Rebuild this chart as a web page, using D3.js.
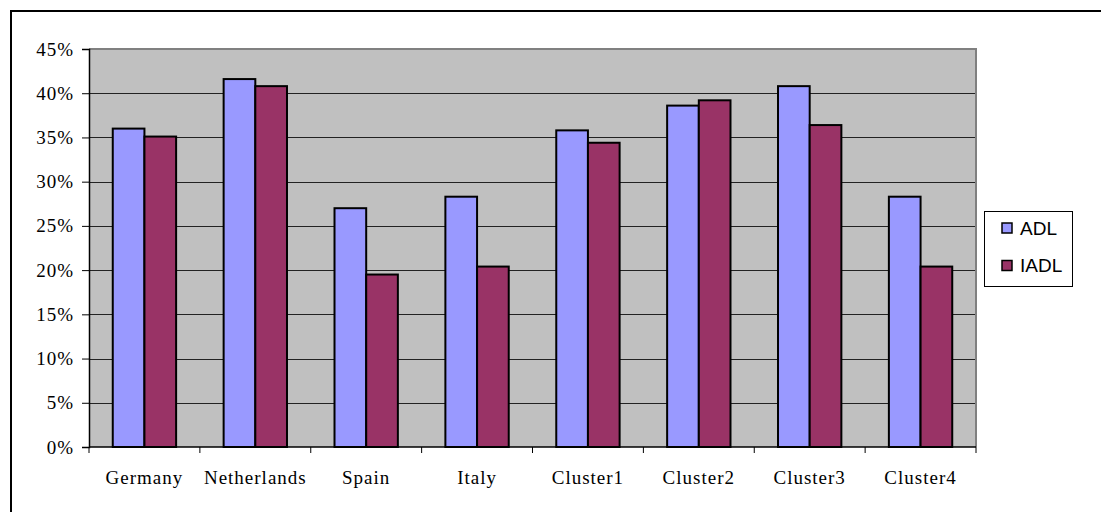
<!DOCTYPE html>
<html>
<head>
<meta charset="utf-8">
<script src="https://cdn.jsdelivr.net/npm/d3@7"></script>
<style>
  html, body { margin: 0; padding: 0; background: #ffffff; }
  svg { display: block; }
</style>
</head>
<body>
<svg id="chart" width="1101" height="512"></svg>
<script>
// Share of respondents with ADL / IADL limitations, by country and cluster
const categories = ["Germany", "Netherlands", "Spain", "Italy", "Cluster1", "Cluster2", "Cluster3", "Cluster4"];
const seriesNames = ["ADL", "IADL"];
const adlValues  = [0.360, 0.416, 0.270, 0.283, 0.358, 0.386, 0.408, 0.283];
const iadlValues = [0.351, 0.408, 0.195, 0.204, 0.344, 0.392, 0.364, 0.204];
const yTickValues = [0, 0.05, 0.10, 0.15, 0.20, 0.25, 0.30, 0.35, 0.40, 0.45];
const seriesColors = ["#9999FF", "#993366"];

const svg = d3.select("#chart");

// Chart-area frame (left and top edges)
svg.append("line").attr("x1", 11).attr("x2", 1101).attr("y1", 11).attr("y2", 11)
  .attr("stroke", "#000").attr("stroke-width", 2);
svg.append("line").attr("x1", 11).attr("x2", 11).attr("y1", 10).attr("y2", 512)
  .attr("stroke", "#000").attr("stroke-width", 2);

const plot = { left: 89, right: 976, top: 49, bottom: 447 };

const x0 = d3.scaleBand().domain(categories).range([plot.left, plot.right]).padding(0);
const x1 = d3.scaleBand().domain(seriesNames).range([0, x0.bandwidth()])
  .paddingInner(0).paddingOuter(0.75);
const y = d3.scaleLinear().domain([0, 0.45]).range([plot.bottom, plot.top]);

// Plot background
svg.append("rect")
  .attr("x", plot.left).attr("y", plot.top)
  .attr("width", plot.right - plot.left).attr("height", plot.bottom - plot.top)
  .attr("fill", "#C0C0C0");

// Horizontal gridlines
svg.append("g").selectAll("line")
  .data(yTickValues.filter(v => v > 0 && v < 0.45))
  .join("line")
  .attr("x1", plot.left).attr("x2", plot.right)
  .attr("y1", d => Math.round(y(d)) + 0.5).attr("y2", d => Math.round(y(d)) + 0.5)
  .attr("stroke", "#222").attr("stroke-width", 1);

// Plot-area border (top and right in grey)
svg.append("path")
  .attr("d", `M${plot.left},${plot.top}H${plot.right}V${plot.bottom}`)
  .attr("fill", "none").attr("stroke", "#808080").attr("stroke-width", 2);

// Bars
const rows = categories.map((c, i) => ({ cat: c, vals: [adlValues[i], iadlValues[i]] }));
const groups = svg.append("g").selectAll("g")
  .data(rows).join("g")
  .attr("transform", d => `translate(${x0(d.cat)},0)`);
groups.selectAll("rect")
  .data(d => d.vals.map((v, j) => ({ key: seriesNames[j], value: v, color: seriesColors[j] })))
  .join("rect")
  .attr("x", d => x1(d.key))
  .attr("y", d => y(d.value))
  .attr("width", x1.bandwidth())
  .attr("height", d => y(0) - y(d.value))
  .attr("fill", d => d.color)
  .attr("stroke", "#000").attr("stroke-width", 2);

// Y axis
const yAxis = d3.axisLeft(y).tickValues(yTickValues).tickFormat(d3.format(".0%"))
  .tickSize(7).tickPadding(8);
const gy = svg.append("g").attr("transform", `translate(${plot.left},0)`).call(yAxis);
gy.select(".domain").attr("stroke", "#000").attr("stroke-width", 1.5);
gy.selectAll(".tick line").attr("stroke", "#000");
gy.selectAll("text")
  .attr("font-family", "'Liberation Serif', 'Times New Roman', serif")
  .attr("font-size", 19).attr("letter-spacing", 1).attr("fill", "#000");

// X axis: baseline, boundary ticks and centred category labels
svg.append("line")
  .attr("x1", plot.left).attr("x2", plot.right)
  .attr("y1", plot.bottom).attr("y2", plot.bottom)
  .attr("stroke", "#000").attr("stroke-width", 1.5);
const boundaries = categories.map(c => x0(c)).concat([x0.range()[1]]);
svg.append("g").selectAll("line")
  .data(boundaries).join("line")
  .attr("x1", d => d).attr("x2", d => d)
  .attr("y1", plot.bottom).attr("y2", plot.bottom + 6)
  .attr("stroke", "#000").attr("stroke-width", 1);
svg.append("g").selectAll("text")
  .data(categories).join("text")
  .attr("x", d => x0(d) + x0.bandwidth() / 2)
  .attr("y", 484)
  .attr("text-anchor", "middle")
  .attr("font-family", "'Liberation Serif', 'Times New Roman', serif")
  .attr("font-size", 19).attr("letter-spacing", 1).attr("fill", "#000")
  .text(d => d);

// Legend
const legend = svg.append("g");
legend.append("rect")
  .attr("x", 984.5).attr("y", 211.5).attr("width", 88).attr("height", 75)
  .attr("fill", "#fff").attr("stroke", "#000").attr("stroke-width", 1);
const items = legend.selectAll("g.item")
  .data(seriesNames).join("g").attr("class", "item")
  .attr("transform", (d, i) => `translate(0,${i * 37.5})`);
items.append("rect")
  .attr("x", 1002).attr("y", 223).attr("width", 10).attr("height", 10)
  .attr("fill", (d, i) => seriesColors[i]).attr("stroke", "#000").attr("stroke-width", 1.5);
items.append("text")
  .attr("x", 1020).attr("y", 234.5)
  .attr("font-family", "'Liberation Sans', Arial, sans-serif")
  .attr("font-size", 19).attr("fill", "#000")
  .text(d => d);
</script>
</body>
</html>
